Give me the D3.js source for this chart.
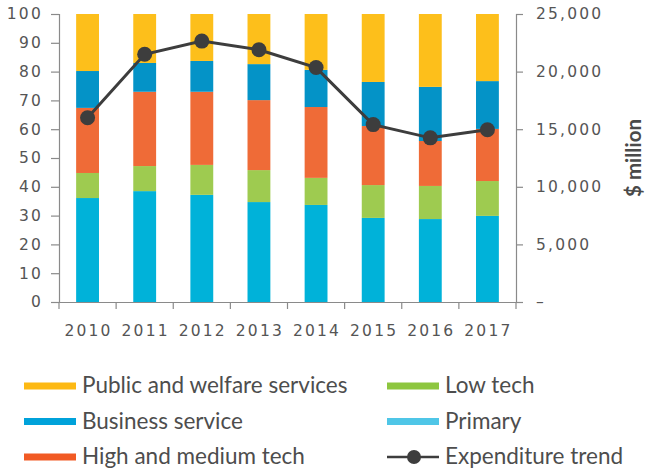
<!DOCTYPE html>
<html>
<head>
<meta charset="utf-8">
<script src="https://cdn.jsdelivr.net/npm/d3@7"></script>
<style>
  body { margin: 0; background: #fff; }
</style>
</head>
<body>
<div id="chart"></div>
<script>
// years on the x axis
const years = ["2010", "2011", "2012", "2013", "2014", "2015", "2016", "2017"];

// share of expenditure by sector (%), bottom to top of each bar
const primary   = [36.1, 38.5, 37.2, 34.7, 33.7, 29.2, 28.8, 29.9];
const lowTech   = [8.7, 8.7, 10.4, 11.1, 9.4, 11.4, 11.5, 12.1];
const highTech  = [22.6, 25.8, 25.4, 24.3, 24.6, 20.5, 15.6, 18.1];
const business  = [12.8, 10.0, 10.7, 12.5, 12.9, 15.3, 18.8, 16.6];
const publicSvc = [19.8, 17.0, 16.3, 17.4, 19.4, 23.6, 25.3, 23.3];

// total expenditure ($ million), right axis
const expenditure = [16000, 21500, 22650, 21900, 20350, 15400, 14250, 14950];

const leftTicks = [0, 10, 20, 30, 40, 50, 60, 70, 80, 90, 100];
const rightTicks = [0, 5000, 10000, 15000, 20000, 25000];

const keys = ["primary", "lowTech", "highTech", "business", "publicSvc"];
const barColor = {
  primary: "#00b2d9",
  lowTech: "#9ecb50",
  highTech: "#ef6b37",
  business: "#0493c7",
  publicSvc: "#fdbf1b",
};

// build rows for d3.stack
const rows = years.map((y, i) => ({
  year: y,
  primary: primary[i],
  lowTech: lowTech[i],
  highTech: highTech[i],
  business: business[i],
  publicSvc: publicSvc[i],
}));

const W = 645, H = 472;
const plotLeft = 59, plotRight = 516, plotTop = 14, plotBottom = 302;

const svg = d3.select("#chart").append("svg")
  .attr("width", W)
  .attr("height", H);

const x = d3.scaleBand().domain(years).range([plotLeft, plotRight])
  .paddingInner(0.6).paddingOuter(0.3);
const y = d3.scaleLinear().domain([0, 100]).range([plotBottom, plotTop]);
const y2 = d3.scaleLinear().domain([0, 25000]).range([plotBottom, plotTop]);

// stacked bars
const series = d3.stack().keys(keys)(rows);
svg.append("g")
  .selectAll("g")
  .data(series)
  .join("g")
  .attr("fill", (d) => barColor[d.key])
  .selectAll("rect")
  .data((d) => d)
  .join("rect")
  .attr("x", (d) => x(d.data.year))
  .attr("width", x.bandwidth())
  .attr("y", (d) => y(d[1]))
  .attr("height", (d) => y(d[0]) - y(d[1]));

// left axis
svg.append("g")
  .attr("class", "axis")
  .attr("transform", `translate(${plotLeft},0)`)
  .call(d3.axisLeft(y).tickValues(leftTicks).tickSize(8).tickPadding(8));

// right axis
svg.append("g")
  .attr("class", "axis")
  .attr("transform", `translate(${plotRight},0)`)
  .call(d3.axisRight(y2).tickValues(rightTicks).tickSize(7).tickPadding(13)
    .tickFormat((d) => (d === 0 ? "–" : d3.format(",")(d))));

// bottom axis: ticks sit between the bars
const step = x.step();
const xAxis = svg.append("g")
  .attr("class", "axis")
  .attr("transform", `translate(0,${plotBottom})`)
  .call(d3.axisBottom(x).tickSize(0).tickSizeOuter(0));
xAxis.selectAll(".tick text").attr("dy", "0.71em").attr("y", 23).attr("dx", "1px");
xAxis.selectAll(".sep")
  .data(d3.range(years.length + 1))
  .join("line")
  .attr("class", "sep")
  .attr("x1", (i) => plotLeft + i * step)
  .attr("x2", (i) => plotLeft + i * step)
  .attr("y1", 0)
  .attr("y2", 7);

svg.selectAll(".axis")
  .attr("font-family", "'DejaVu Sans', sans-serif")
  .attr("font-size", 15.5);
svg.selectAll(".axis text")
  .attr("fill", "#555")
  .style("letter-spacing", "2.2px");
svg.selectAll(".axis path, .axis line")
  .attr("stroke", "#8a8a8a")
  .attr("stroke-width", 1.2);

// right axis title
svg.append("text")
  .attr("transform", `translate(641,158) rotate(-90)`)
  .attr("text-anchor", "middle")
  .style("font-family", "Lato, sans-serif")
  .style("font-size", "20.5px")
  .style("font-weight", "bold")
  .style("fill", "#4a4a4a")
  .text("$ million");

// expenditure trend line
const line = d3.line()
  .x((d, i) => x(years[i]) + x.bandwidth() / 2)
  .y((d) => y2(d));

svg.append("path")
  .datum(expenditure)
  .attr("fill", "none")
  .attr("stroke", "#3d3d3d")
  .attr("stroke-width", 3)
  .attr("d", line);

svg.append("g")
  .selectAll("circle")
  .data(expenditure)
  .join("circle")
  .attr("cx", (d, i) => x(years[i]) + x.bandwidth() / 2)
  .attr("cy", (d) => y2(d))
  .attr("r", 7.5)
  .attr("fill", "#3d3d3d");

// legend
const legendItems = [
  { label: "Public and welfare services", color: "#fdb913", col: 0, row: 0 },
  { label: "Business service", color: "#00a2da", col: 0, row: 1 },
  { label: "High and medium tech", color: "#f15a24", col: 0, row: 2 },
  { label: "Low tech", color: "#8dc63f", col: 1, row: 0 },
  { label: "Primary", color: "#4fc6e7", col: 1, row: 1 },
  { label: "Expenditure trend", color: null, col: 1, row: 2 },
];
const colX = [24, 387];
const rowY = [386, 421.5, 457];

const legend = svg.append("g")
  .attr("font-family", "Lato, sans-serif")
  .attr("font-size", 22.5);
const item = legend.selectAll("g")
  .data(legendItems)
  .join("g")
  .attr("transform", (d) => `translate(${colX[d.col]},${rowY[d.row]})`);

item.filter((d) => d.color)
  .append("rect")
  .attr("x", 0)
  .attr("y", -3.5)
  .attr("width", 52)
  .attr("height", 7)
  .attr("fill", (d) => d.color);

const trend = item.filter((d) => !d.color);
trend.append("line")
  .attr("x1", 0).attr("x2", 52)
  .attr("y1", 0).attr("y2", 0)
  .attr("stroke", "#3d3d3d")
  .attr("stroke-width", 2.5);
trend.append("circle")
  .attr("cx", 27)
  .attr("cy", 0)
  .attr("r", 7)
  .attr("fill", "#3d3d3d");

item.append("text")
  .attr("x", 58)
  .attr("y", 7)
  .attr("fill", "#4d4d4d")
  .text((d) => d.label);
</script>
</body>
</html>
